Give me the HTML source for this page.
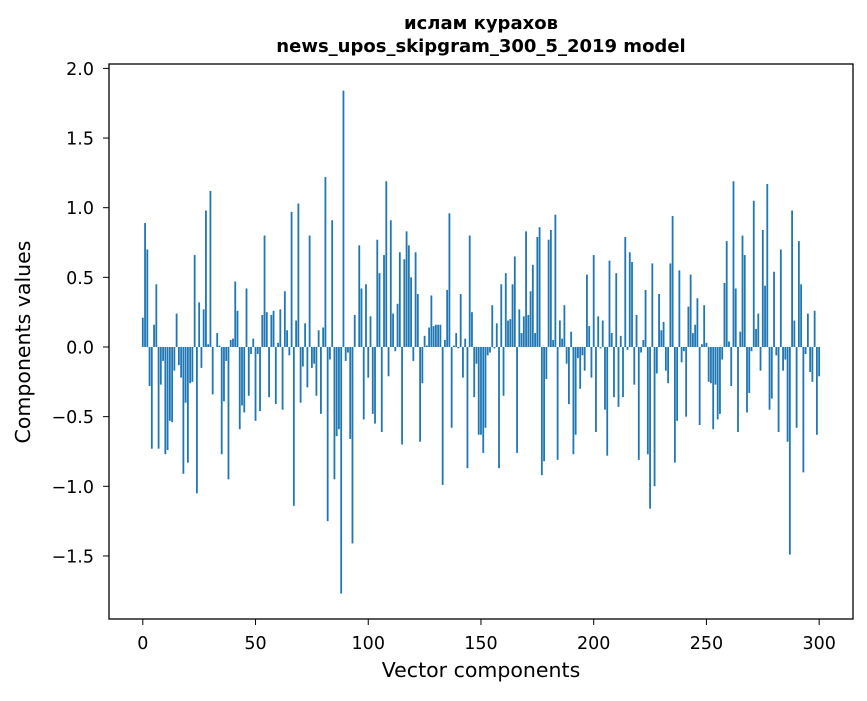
<!DOCTYPE html>
<html><head><meta charset="utf-8"><style>
body{margin:0;background:#fff;}
svg text{font-family:"DejaVu Sans","Liberation Sans",sans-serif;fill:#000;}
</style></head><body>
<svg width="867" height="696" viewBox="0 0 867 696">
<rect width="867" height="696" fill="#fff"/>
<text x="481" y="29" text-anchor="middle" font-size="18" font-weight="bold">ислам курахов</text>
<text x="481" y="52" text-anchor="middle" font-size="18" font-weight="bold">news_upos_skipgram_300_5_2019 model</text>
<g id="bars"></g>
<g id="axes"></g>
<rect x="109" y="64" width="744" height="555" fill="none" stroke="#000" stroke-width="1.3"/>
<text x="481" y="677" text-anchor="middle" font-size="20.5">Vector components</text>
<text transform="translate(30,342) rotate(-90)" text-anchor="middle" font-size="20.5">Components values</text>
</svg>
<script>
const values = [0.21,0.89,0.70,-0.28,-0.73,0.16,0.45,-0.73,-0.27,-0.10,-0.77,-0.74,-0.53,-0.54,-0.17,0.24,-0.13,-0.22,-0.91,-0.40,-0.83,-0.26,-0.25,0.66,-1.05,0.32,-0.15,0.27,0.98,0.02,1.12,-0.34,0.00,0.10,0.01,-0.77,-0.39,-0.10,-0.95,0.05,0.06,0.47,0.26,-0.59,-0.42,-0.47,0.42,-0.35,-0.05,
0.06,-0.53,-0.05,-0.46,0.23,0.80,0.25,-0.36,0.23,0.26,-0.41,0.03,0.27,-0.45,0.40,0.12,-0.06,0.97,-1.14,0.19,1.03,-0.40,-0.14,0.17,-0.29,0.80,-0.15,-0.12,-0.35,0.12,-0.48,0.14,1.22,-1.25,-0.09,0.91,-0.95,-0.64,-0.59,-1.77,1.84,-0.10,-0.04,-0.66,-1.41,0.23,0.00,0.73,0.42,-0.52,
0.45,-0.22,0.22,-0.48,-0.55,0.77,0.53,-0.61,0.66,1.19,-0.21,0.91,0.24,-0.03,0.31,0.68,-0.70,0.63,0.83,0.73,0.50,-0.10,0.68,0.38,-0.68,-0.26,0.08,0.01,0.14,0.37,0.15,0.16,0.16,0.16,-0.99,0.05,0.41,0.96,-0.58,0.01,0.10,-0.01,0.38,-0.22,0.06,-0.87,0.80,0.25,-0.36,-0.12,
-0.63,-0.63,-0.76,-0.58,-0.06,-0.04,0.30,-0.01,0.17,-0.87,0.45,-0.35,0.53,0.19,0.20,0.45,0.65,-0.76,0.27,0.10,0.22,0.83,0.23,0.40,0.59,0.10,0.79,0.86,-0.92,-0.82,-0.23,0.77,0.84,0.05,0.95,-0.81,0.19,0.06,0.30,-0.12,-0.41,0.11,-0.77,-0.63,-0.08,-0.30,-0.06,-0.17,0.52,0.15,-0.22,0.66,
-0.61,0.22,-0.01,0.19,-0.45,-0.78,0.62,0.10,-0.36,0.53,-0.43,0.08,-0.36,0.79,-0.02,0.68,0.61,-0.27,0.23,-0.81,-0.04,0.05,0.41,-0.77,-1.16,0.60,-1.00,-0.19,0.38,0.12,0.18,-0.17,-0.26,0.60,0.94,-0.83,-0.53,0.55,-0.11,-0.03,-0.50,0.29,0.52,0.10,0.16,0.35,-0.56,0.02,0.30,0.03,
-0.25,-0.26,-0.59,-0.27,-0.52,-0.48,-0.09,0.46,0.76,0.04,-0.28,1.19,0.42,-0.61,0.11,0.80,0.66,-0.47,-0.33,-0.03,1.05,0.13,0.24,-0.17,0.84,0.44,1.17,-0.45,-0.37,0.54,-0.06,-0.61,0.70,-0.17,-0.09,-0.68,-1.49,0.98,0.19,-0.58,0.76,0.45,-0.90,-0.05,0.24,-0.18,-0.25,0.26,-0.63,-0.21];
const xTicks = [0,50,100,150,200,250,300];
const yTicks = [-1.5,-1.0,-0.5,0.0,0.5,1.0,1.5,2.0];
const NS="http://www.w3.org/2000/svg";
function xs(v){return 142.8+v*2.2545;}
function ys(v){return 347-v*139.3;}
const bars=document.getElementById('bars');
values.forEach((v,i)=>{
  const r=document.createElementNS(NS,'rect');
  
  
  const w=0.8*2.2545;
  r.setAttribute('x',xs(i)-w/2);
  r.setAttribute('width',w);
  r.setAttribute('y',Math.min(ys(v),ys(0)));
  r.setAttribute('height',Math.abs(ys(v)-ys(0)));
  r.setAttribute('fill','#1f77b4');
  bars.appendChild(r);
});
const axes=document.getElementById('axes');
xTicks.forEach(t=>{
  const l=document.createElementNS(NS,'line');
  
  
  l.setAttribute('x1',xs(t));l.setAttribute('x2',xs(t));l.setAttribute('y1',619);l.setAttribute('y2',625);
  l.setAttribute('stroke','#000');
  axes.appendChild(l);
  const tx=document.createElementNS(NS,'text');
  
  
  tx.setAttribute('x',xs(t));tx.setAttribute('y',649);tx.setAttribute('text-anchor','middle');tx.setAttribute('font-size','17.5');
  tx.textContent=String(t);
  axes.appendChild(tx);
});
yTicks.forEach(t=>{
  const l=document.createElementNS(NS,'line');
  
  
  l.setAttribute('x1',103);l.setAttribute('x2',109);l.setAttribute('y1',ys(t));l.setAttribute('y2',ys(t));
  l.setAttribute('stroke','#000');
  axes.appendChild(l);
  const tx=document.createElementNS(NS,'text');
  
  
  tx.setAttribute('x',94);tx.setAttribute('y',ys(t)+6.5);tx.setAttribute('text-anchor','end');tx.setAttribute('font-size','17.5');
  tx.textContent=(t<0?'\u2212':'')+Math.abs(t).toFixed(1);
  axes.appendChild(tx);
});
</script>
</body></html>
